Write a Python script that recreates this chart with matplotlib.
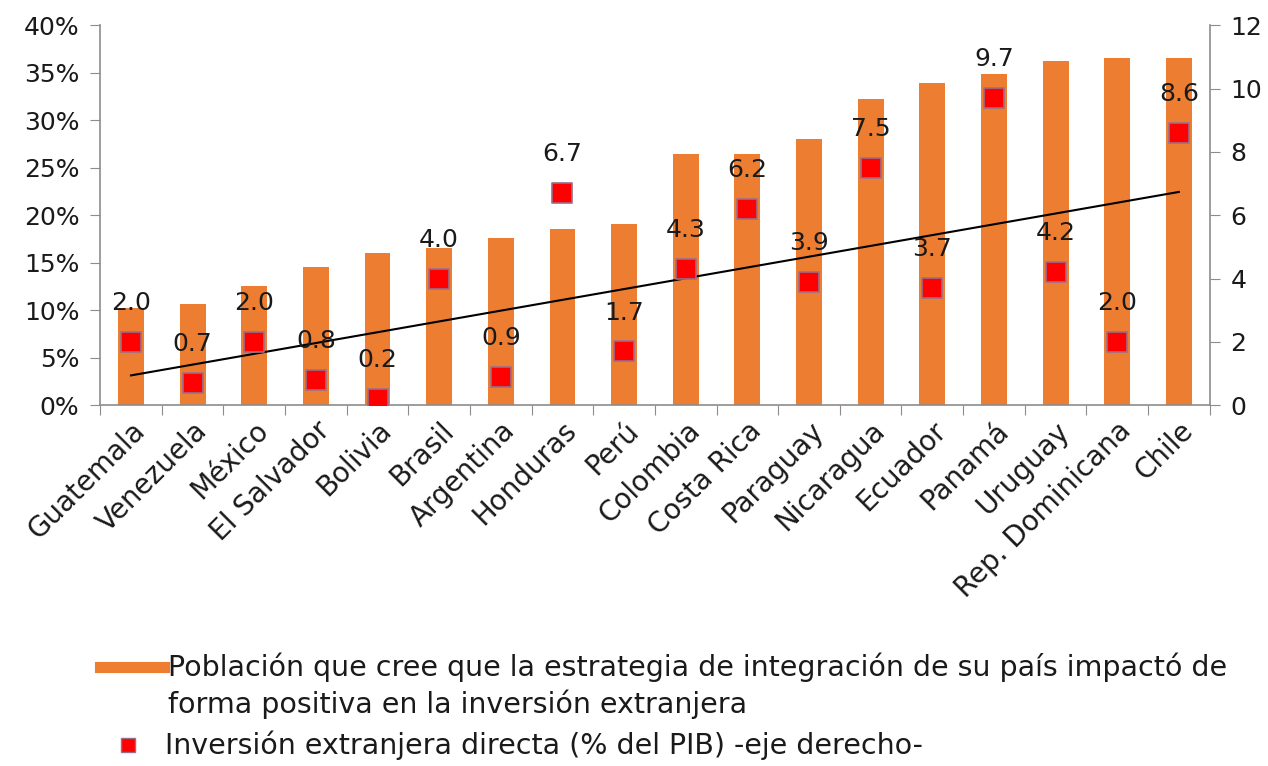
import numpy as np
import matplotlib
matplotlib.use("Agg")
import matplotlib.pyplot as plt
from matplotlib.lines import Line2D
from matplotlib.ticker import FuncFormatter, MultipleLocator

countries = ["Guatemala", "Venezuela", "México", "El Salvador", "Bolivia", "Brasil",
             "Argentina", "Honduras", "Perú", "Colombia", "Costa Rica", "Paraguay",
             "Nicaragua", "Ecuador", "Panamá", "Uruguay", "Rep. Dominicana", "Chile"]
# % of population that thinks integration had positive impact on foreign investment
poblacion = [10.2, 10.7, 12.6, 14.5, 16.0, 16.6, 17.6, 18.5, 19.1, 26.5, 26.5, 28.0,
             32.2, 33.9, 34.9, 36.2, 36.6, 36.6]
# FDI (% of GDP), right axis
ied = [2.0, 0.7, 2.0, 0.8, 0.2, 4.0, 0.9, 6.7, 1.7, 4.3, 6.2, 3.9, 7.5, 3.7, 9.7, 4.2, 2.0, 8.6]

bar_color = "#ED7D31"
marker_color = "#FF0000"
marker_edge = "#9A6E8A"
axis_gray = "#8C8C8C"
text_color = "#1a1a1a"
plt.rcParams["font.family"] = "DejaVu Sans"
plt.rcParams["text.color"] = text_color

fig = plt.figure(figsize=(12.68, 7.66), dpi=100)
ax = fig.add_axes([0.079, 0.471, 0.875, 0.496])
ax2 = ax.twinx()

x = np.arange(len(countries))
ax.bar(x, poblacion, width=0.42, color=bar_color, zorder=1)

ax.set_xlim(-0.5, len(countries) - 0.5)
ax.set_ylim(0, 40)
ax.yaxis.set_major_locator(MultipleLocator(5))
ax.yaxis.set_major_formatter(FuncFormatter(lambda v, p: f"{v:.0f}%"))

ax2.set_ylim(0, 12)
ax2.yaxis.set_major_locator(MultipleLocator(2))

# markers and trend line on the right axis
ax2.scatter(x, ied, marker="s", s=200, color=marker_color, edgecolor=marker_edge,
            linewidth=1.2, zorder=4)
coef = np.polyfit(x, ied, 1)
ax2.plot(x, np.polyval(coef, x), color="black", lw=1.5, zorder=3)
for xi, v in zip(x, ied):
    ax2.annotate(f"{v:.1f}", (xi, v), xytext=(0, 28), textcoords="offset points",
                 ha="center", va="center", fontsize=18, color=text_color, zorder=5)

# x ticks between categories, labels at centres
ax.set_xticks(np.arange(-0.5, len(countries), 1.0))
ax.set_xticklabels([])
ax.set_xticks(x, minor=True)
ax.set_xticklabels(countries, minor=True, rotation=45, ha="right",
                   rotation_mode="anchor", fontsize=20, color=text_color)
ax.tick_params(axis="x", which="minor", length=0, pad=8)
ax.tick_params(axis="x", which="major", length=7, color=axis_gray, direction="out")
ax.tick_params(axis="y", length=7, color=axis_gray, labelsize=18, pad=8,
               labelcolor=text_color)
ax2.tick_params(axis="y", length=7, color=axis_gray, labelsize=18, pad=8,
                labelcolor=text_color)

for a in (ax, ax2):
    a.spines["top"].set_visible(False)
    for s in ("left", "right", "bottom"):
        a.spines[s].set_color(axis_gray)
        a.spines[s].set_linewidth(1.2)
ax.spines["right"].set_visible(False)
ax2.spines["left"].set_visible(False)
ax2.spines["bottom"].set_visible(False)

# legend drawn by hand so the bar key sits on the first text line
legend_size = 20.5
fig.add_artist(Line2D([0.079, 0.129], [0.129, 0.129], color=bar_color, lw=8,
                      transform=fig.transFigure))
fig.text(0.1325, 0.129, "Población que cree que la estrategia de integración de su país impactó de",
         fontsize=legend_size, va="center", ha="left")
fig.text(0.1325, 0.080, "forma positiva en la inversión extranjera",
         fontsize=legend_size, va="center", ha="left")
fig.add_artist(Line2D([0.101], [0.027], marker="s", ls="none", markersize=10,
                      markerfacecolor=marker_color, markeredgecolor=marker_edge,
                      transform=fig.transFigure))
fig.text(0.130, 0.027, "Inversión extranjera directa (% del PIB) -eje derecho-",
         fontsize=legend_size, va="center", ha="left")

fig.savefig("out.png", dpi=100)
